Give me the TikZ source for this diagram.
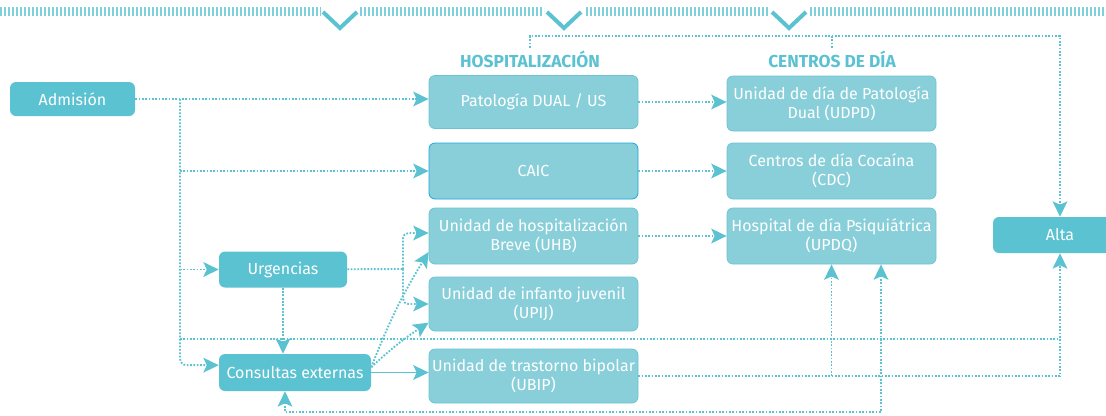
\documentclass[tikz,border=0pt]{standalone}
\usepackage{fontspec}
\setmainfont{Fira Sans}
\usetikzlibrary{arrows.meta}
\definecolor{tealdark}{HTML}{5BC2D1}
\definecolor{teallight}{HTML}{88CFDA}
\definecolor{tealedge}{HTML}{6CC4D3}
\definecolor{tealstripe}{HTML}{7FD0DC}
\definecolor{caicblue}{HTML}{1BA6E0}
\tikzset{
  darkbox/.style={shape=rectangle,rounded corners=4.5pt,fill=tealdark,text=white,inner sep=0pt,
    font=\fontsize{12}{14}\selectfont,align=center,minimum height=27pt},
  lightbox/.style={shape=rectangle,rounded corners=4.5pt,fill=teallight,draw=tealedge,line width=0.6pt,
    text=white,inner sep=0pt,font=\fontsize{12}{14}\selectfont,align=center,minimum width=156.75pt},
  header/.style={text=tealdark,inner sep=2pt,font=\bfseries\fontsize{13}{15}\selectfont},
  dotline/.style={draw=tealdark,line width=1.4pt,dash pattern=on 1.3pt off 1.2pt},
  arrowin/.style={-{Stealth[length=11.5pt,width=11pt,inset=2.5pt]}},
  arrowboth/.style={{Stealth[length=11.5pt,width=11pt,inset=2.5pt]}-{Stealth[length=11.5pt,width=11pt,inset=2.5pt]}},
}
\begin{document}
\begin{tikzpicture}[x=0.75pt,y=-0.75pt]
\useasboundingbox (0,0) rectangle (1106,415);

% top band
\foreach \a/\b in {0/321,360/544,586/768,810/1106}
  \draw[tealstripe,line width=6.75pt,dash pattern=on 1.6pt off 1.4pt] (\a,11.5) -- (\b,11.5);
\foreach \c in {340,564,789}
  \draw[tealdark,line width=3pt] (\c-17,12) -- (\c,28) -- (\c+17,12);

\node[header] (hosp) at (530,59) {HOSPITALIZACIÓN};
\node[header] (cent) at (832,59) {CENTROS DE DÍA};

\node[darkbox,minimum width=93.75pt,minimum height=25.5pt] (adm) at (72.5,99) {Admisión};
\node[darkbox,minimum width=96pt] (urg) at (283,269.5) {Urgencias};
\node[darkbox,minimum width=114pt,minimum height=27.75pt] (cons) at (295,372.5) {Consultas externas};
\node[darkbox,minimum width=100.5pt] (alta) at (1060,235) {Alta};

\node[lightbox,minimum height=39.75pt] (pat) at (533.5,102) {Patología DUAL / US};
\node[lightbox,minimum height=42pt,draw=caicblue] (caic) at (533.5,171) {CAIC};
\node[lightbox,minimum height=42pt] (uhb) at (533.5,236) {Unidad de hospitalización\\Breve (UHB)};
\node[lightbox,minimum height=40.5pt] (upij) at (533.5,304) {Unidad de infanto juvenil\\(UPIJ)};
\node[lightbox,minimum height=40.5pt] (ubip) at (533.5,376) {Unidad de trastorno bipolar\\(UBIP)};
\node[lightbox,minimum height=41.25pt] (udpd) at (831.5,103.5) {Unidad de día de Patología\\Dual (UDPD)};
\node[lightbox,minimum height=42pt] (cdc) at (831.5,171) {Centros de día Cocaína\\(CDC)};
\node[lightbox,minimum height=42pt] (updq) at (831.5,236) {Hospital de día Psiquiátrica\\(UPDQ)};

\coordinate (j1) at (180,99);
\coordinate (j2) at (180,339);
\coordinate (j3) at (403,269);
\coordinate (tr) at (1060,36);
\coordinate (bl) at (285,412);
\coordinate (br) at (881,412);

\draw[dotline,arrowin] (adm.east) -- (adm.east -| pat.west);
\draw[dotline,arrowin,rounded corners=5pt] (j1) |- ([yshift=5.5pt]cons.west);
\draw[dotline,arrowin] (j1 |- caic) -- (caic);
\draw[dotline,arrowin] (j1 |- urg) -- (urg);
\draw[dotline] (j2) -- (j2 -| tr);
\draw[dotline,arrowin] (hosp.north) |- (tr) -- (alta);
\draw[dotline] (cent.north) -- (cent.north |- tr);

\draw[dotline,arrowin] (pat.east) -- (pat.east -| udpd.west);
\draw[dotline,arrowin] (caic) -- (cdc);
\draw[dotline,arrowin] (uhb) -- (updq);

\draw[dotline] (urg) -- (j3);
\draw[dotline,arrowin,rounded corners=4pt] (j3) |- ([yshift=2.25pt]uhb.west);
\draw[dotline,arrowin,rounded corners=4pt] (j3) |- (upij.west);
\draw[dotline,arrowin] (urg) -- (urg |- cons.north);

\draw[tealdark,line width=1.2pt,arrowin] (cons.east) -- (cons.east -| ubip.west);
\draw[dotline,arrowin] ([yshift=4pt]cons.east) to[bend left=5] ([yshift=-12pt]uhb.west);
\draw[dotline,arrowin] ([yshift=4pt]cons.east) to[bend left=5] ([yshift=-14pt]upij.west);

\draw[dotline,arrowin] (ubip) -| (alta);
\draw[dotline,arrowin] (updq |- ubip) -- (updq);
\draw[dotline,arrowboth] (bl |- cons.south) -- (bl) -- (br) -- (br |- updq.south);
\end{tikzpicture}
\end{document}
